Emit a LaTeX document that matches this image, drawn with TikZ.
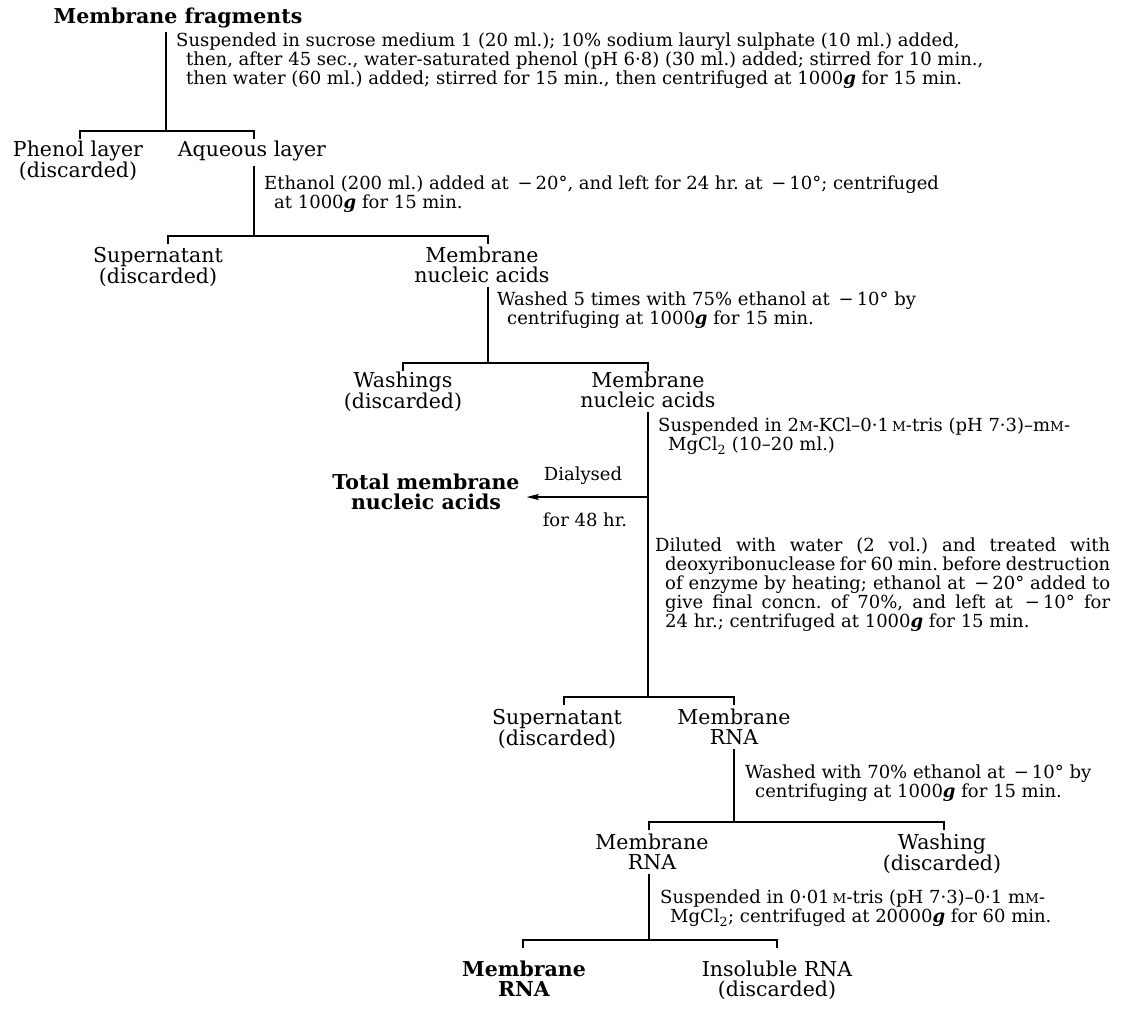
\documentclass[tikz,border=0pt]{standalone}
\usepackage{fontspec}
\setmainfont{DejaVu Serif}
\usetikzlibrary{arrows.meta,calc}
\frenchspacing
\newcommand\scM{{\fontsize{13.5}{13.5}\selectfont M}}
\newcommand\gee{\textbf{\textit{g}}}
\newcommand\ind{\hspace*{10pt}}
\newcommand\mns{\,−\,}
\tikzset{
 proc/.style={font=\fontsize{18}{19}\selectfont, align=left, anchor=north west, inner sep=0pt},
 lab/.style={font=\fontsize{20.5}{19.5}\selectfont, align=center, anchor=north, inner sep=0pt},
 blab/.style={lab, font=\fontsize{20.5}{20}\selectfont\bfseries},
 conn/.style={line width=1.3pt},
 vconn/.style={conn, shorten <=4pt},
 arr/.style={conn, -{Stealth[length=12pt,width=6pt,inset=2pt]}},
}
\begin{document}
\begin{tikzpicture}[x=1pt,y=-1pt]
\useasboundingbox (0,0) rectangle (1122,1014);
% nodes
\node[blab, anchor=center] (frag) at (178,18) {Membrane fragments};
\node[proc] (t1) at (176,33) {Suspended in sucrose medium 1 (20 ml.); 10\% sodium lauryl sulphate (10 ml.) added,\\\ind then, after 45 sec., water-saturated phenol (pH 6·8) (30 ml.) added; stirred for 10 min.,\\\ind then water (60 ml.) added; stirred for 15 min., then centrifuged at 1000\gee{} for 15 min.};
\node[lab] (phenol) at (78,141) {Phenol layer\\(discarded)};
\node[lab] (aq) at (252,141) {Aqueous layer};
\node[proc] (t2) at (264,176) {Ethanol (200 ml.) added at \mns20°, and left for 24 hr. at \mns10°; centrifuged\\\ind at 1000\gee{} for 15 min.};
\node[lab] (sup1) at (158,247) {Supernatant\\(discarded)};
\node[lab] (mna1) at (482,247) {Membrane\\nucleic acids};
\node[proc] (t3) at (497,292) {Washed 5 times with 75\% ethanol at \mns10° by\\\ind centrifuging at 1000\gee{} for 15 min.};
\node[lab] (wash1) at (403,372) {Washings\\(discarded)};
\node[lab] (mna2) at (648,372) {Membrane\\nucleic acids};
\node[proc] (t4) at (658,418) {Suspended in 2\scM-KCl–0·1\,\scM-tris (pH 7·3)–m\scM-\\\ind MgCl\textsubscript{2} (10–20 ml.)};
\node[blab] (total) at (426,474) {Total membrane\\nucleic acids};
\node[proc, anchor=center] (dial) at (583,476) {Dialysed};
\node[proc, anchor=center] (for48) at (585,520) {for 48 hr.};
\node[proc] (t5) at (655,538) {\makebox[455pt][s]{Diluted with water (2 vol.) and treated with}\\
\ind\makebox[445pt][s]{deoxyribonuclease for 60 min. before destruction}\\
\ind\makebox[445pt][s]{of enzyme by heating; ethanol at \mns20° added to}\\
\ind\makebox[445pt][s]{give final concn. of 70\%, and left at \mns10° for}\\
\ind 24 hr.; centrifuged at 1000\gee{} for 15 min.};
\node[lab] (sup2) at (557,709) {Supernatant\\(discarded)};
\node[lab] (mrna1) at (734,709) {Membrane\\RNA};
\node[proc] (t6) at (745,765) {Washed with 70\% ethanol at \mns10° by\\\ind centrifuging at 1000\gee{} for 15 min.};
\node[lab] (mrna2) at (652,834) {Membrane\\RNA};
\node[lab] (washing) at (942,834) {Washing\\(discarded)};
\node[proc] (t7) at (660,890) {Suspended in 0·01\,\scM-tris (pH 7·3)–0·1 m\scM-\\\ind MgCl\textsubscript{2}; centrifuged at 20000\gee{} for 60 min.};
\node[blab] (mrna3) at (524,961) {Membrane\\RNA};
\node[lab] (insol) at (777,961) {Insoluble RNA\\(discarded)};
% junction coordinates
\coordinate (j1) at (166,131);
\coordinate (b1l) at (80,131);  \coordinate (b1r) at (254,131);
\coordinate (j2) at (254,236);
\coordinate (b2l) at (168,236); \coordinate (b2r) at (488,236);
\coordinate (j3) at (488,363);
\coordinate (b3l) at (403,363); \coordinate (b3r) at (648,363);
\coordinate (a4) at (648,497);
\coordinate (j4) at (648,697);
\coordinate (b4l) at (564,697); \coordinate (b4r) at (734,697);
\coordinate (j5) at (734,822);
\coordinate (b5l) at (649,822); \coordinate (b5r) at (944,822);
\coordinate (j6) at (649,940);
\coordinate (b6l) at (523,940); \coordinate (b6r) at (777,940);
% connectors
\draw[vconn] (frag.south -| j1) -- (j1);
\draw[conn] (b1l) ++(0,8) -- (b1l) -- (b1r) -- ++(0,8);
\draw[vconn] (aq.south -| j2) -- (j2);
\draw[conn] (b2l) ++(0,8) -- (b2l) -- (b2r) -- ++(0,8);
\draw[vconn] (mna1.south -| j3) -- (j3);
\draw[conn] (b3l) ++(0,8) -- (b3l) -- (b3r) -- ++(0,8);
\draw[vconn] (mna2.south -| j4) -- (j4);
\draw[conn] (b4l) ++(0,8) -- (b4l) -- (b4r) -- ++(0,8);
\draw[arr] (a4) -- ($(total.east |- a4)+(7,0)$);
\draw[vconn] (mrna1.south -| j5) -- (j5);
\draw[conn] (b5l) ++(0,8) -- (b5l) -- (b5r) -- ++(0,8);
\draw[vconn] (mrna2.south -| j6) -- (j6);
\draw[conn] (b6l) ++(0,8) -- (b6l) -- (b6r) -- ++(0,8);
\end{tikzpicture}
\end{document}
